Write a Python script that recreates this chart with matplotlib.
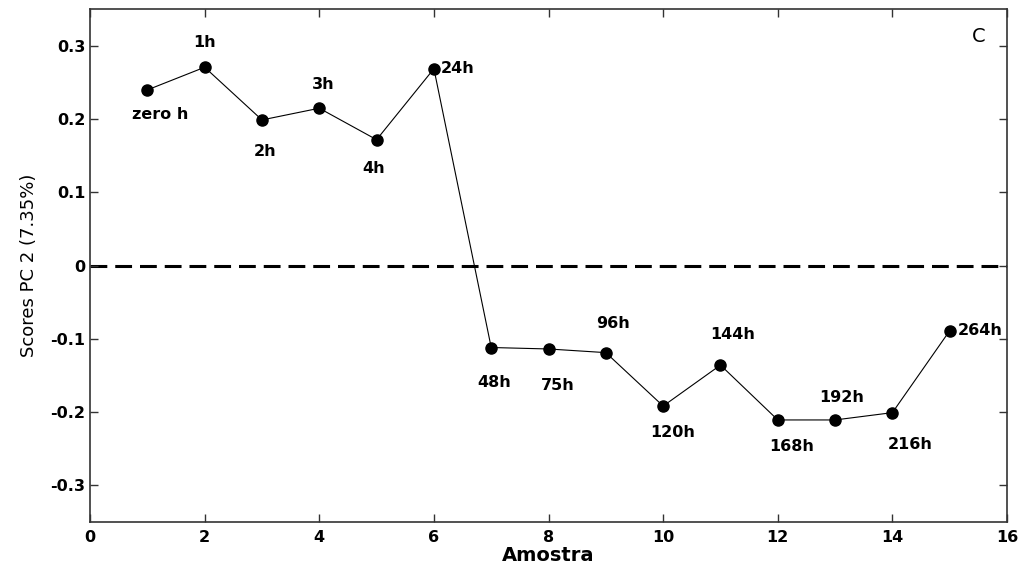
import matplotlib
matplotlib.use("Agg")
import matplotlib.pyplot as plt

plt.rcParams["font.family"] = ["DejaVu Sans"]

# PC2 scores per sample, with the sampling time of each one
amostra = [1, 2, 3, 4, 5, 6, 7, 8, 9, 10, 11, 12, 13, 14, 15]
scores_pc2 = [0.240, 0.271, 0.199, 0.215, 0.172, 0.269, -0.112, -0.114,
              -0.119, -0.192, -0.136, -0.211, -0.211, -0.201, -0.089]
tempos = ["zero h", "1h", "2h", "3h", "4h", "24h", "48h", "75h", "96h",
          "120h", "144h", "168h", "192h", "216h", "264h"]

# label offsets in points (dx, dy) and horizontal alignment
offsets = [(9, -18, "center"), (0, 18, "center"), (2, -23, "center"),
           (3, 17, "center"), (-2, -21, "center"), (5, 0, "left"),
           (2, -25, "center"), (7, -26, "center"), (5, 21, "center"),
           (7, -19, "center"), (9, 22, "center"), (10, -19, "center"),
           (5, 16, "center"), (13, -23, "center"), (6, 0, "left")]

fig = plt.figure(figsize=(10.3, 5.72), dpi=100)
ax = fig.add_axes([0.0874, 0.088, 0.8903, 0.8955])

ax.axhline(0, color="black", lw=2.2, ls=(0, (5.5, 2.6)), zorder=1)
ax.plot(amostra, scores_pc2, color="black", lw=0.8, marker="o",
        markersize=8, zorder=3)

for x, y, lab, (dx, dy, ha) in zip(amostra, scores_pc2, tempos, offsets):
    ax.annotate(lab, (x, y), xytext=(dx, dy), textcoords="offset points",
                ha=ha, va="center", fontsize=11.5, fontweight="bold")

ax.text(0.969, 0.948, "C", transform=ax.transAxes, ha="center", va="center",
        fontsize=14)

ax.set_xlim(0, 16)
ax.set_ylim(-0.35, 0.35)
ax.set_xticks(range(0, 17, 2))
ax.set_yticks([-0.3, -0.2, -0.1, 0, 0.1, 0.2, 0.3])
ax.set_yticklabels(["-0.3", "-0.2", "-0.1", "0", "0.1", "0.2", "0.3"])
ax.tick_params(direction="in", top=True, right=True, length=6, width=1,
               labelsize=11.5, color="#333333")
ax.tick_params(axis="x", pad=6)
for lbl in ax.get_xticklabels() + ax.get_yticklabels():
    lbl.set_fontweight("bold")
for sp in ax.spines.values():
    sp.set_color("#333333")
    sp.set_linewidth(1.2)

ax.set_xlabel("Amostra", fontsize=14, fontweight="bold", labelpad=1)
ax.set_ylabel("Scores PC 2 (7.35%)", fontsize=13, labelpad=9)

fig.savefig("out.png", dpi=100)
